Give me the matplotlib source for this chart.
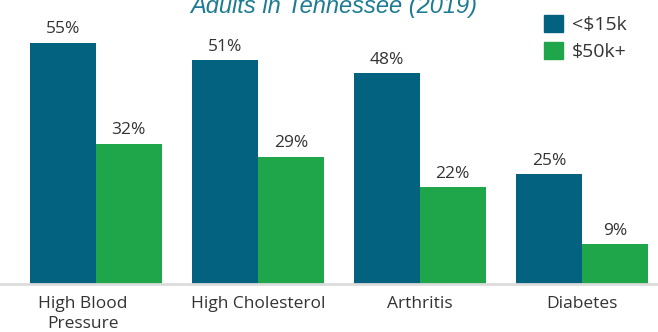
import numpy as np
import matplotlib.pyplot as plt
from matplotlib.patches import Patch
from matplotlib.transforms import ScaledTranslation

categories = ["High Blood\nPressure", "High Cholesterol", "Arthritis", "Diabetes"]
low_income = [55, 51, 48, 25]
high_income = [32, 29, 22, 9]
series_names = ["<$15k", "$50k+"]
title = "Adults in Tennessee (2019)"

teal = "#03627f"
green = "#1fa64a"
text_col = "#333333"

plt.rcParams['font.family'] = ['Open Sans', 'DejaVu Sans']

W, H = 658, 332
fig = plt.figure(figsize=(W / 100, H / 100), dpi=100)
base = 284
ax = fig.add_axes([0, (H - base) / H, 1, base / H])

x = np.arange(len(categories))
bw = 0.405
b1 = ax.bar(x - bw / 2, low_income, bw, color=teal)
b2 = ax.bar(x + bw / 2, high_income, bw, color=green)

for bars, vals in ((b1, low_income), (b2, high_income)):
    for b, v in zip(bars, vals):
        ax.annotate(f"{v}%", (b.get_x() + b.get_width() / 2, v),
                    xytext=(0, 4), textcoords="offset points",
                    ha="center", va="bottom", fontsize=12.5, color=text_col)

ax.set_xlim(-96 / 162, (W - 96) / 162)
ax.set_ylim(0, base / 4.39)
ax.set_xticks(x)
ax.set_xticklabels(categories, fontsize=12.5, color=text_col, linespacing=1.25)
ax.tick_params(axis="x", length=0, pad=9)
# first label sits a little left of its group in the original
lab = ax.get_xticklabels()[0]
lab.set_transform(lab.get_transform() + ScaledTranslation(-0.13, 0, fig.dpi_scale_trans))
ax.set_yticks([])
for s in ("top", "right", "left"):
    ax.spines[s].set_visible(False)
ax.spines["bottom"].set_color("#dcdcdc")
ax.spines["bottom"].set_linewidth(2)

fig.text(334 / W, 1 - 13 / H, title, ha="center", va="baseline",
         fontsize=17, style="italic", color="#1d7b93", family="Liberation Sans")

handles = [Patch(color=teal), Patch(color=green)]
fig.legend(handles, series_names, loc="upper left",
           bbox_to_anchor=(536 / W, 1 - 7 / H), frameon=False,
           fontsize=14, handlelength=1.0, handleheight=1.0,
           handletextpad=0.45, labelspacing=0.4, borderaxespad=0,
           labelcolor=text_col)

fig.savefig("out.png", dpi=100)
